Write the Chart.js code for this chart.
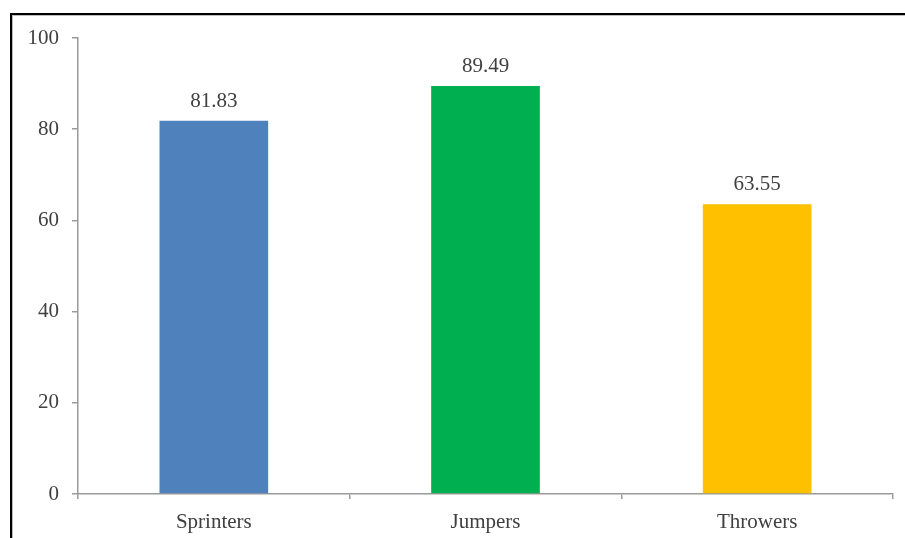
<!DOCTYPE html>
<html>
<head>
<meta charset="utf-8">
<script src="https://cdn.jsdelivr.net/npm/chart.js@4"></script>
<style>
  html, body { margin: 0; padding: 0; background: #fff; }
  #wrap { position: relative; width: 905px; height: 538px; overflow: hidden; }
  #frame { position: absolute; left: 10px; top: 13px; width: 900px; height: 540px;
           border-top: 2px solid #000; border-left: 2px solid #000;
           box-shadow: 1px 1px 0 #bdbdbd inset; pointer-events: none; }
  canvas { position: absolute; left: 0; top: 0; }
</style>
</head>
<body>
<div id="wrap">
  <canvas id="c" width="905" height="538"></canvas>
  <div id="frame"></div>
</div>
<script>
const categories = ["Sprinters", "Jumpers", "Throwers"];
const values = [81.83, 89.49, 63.55];
const barColors = ["#4F81BD", "#00B050", "#FFC000"];
const yTicks = [0, 20, 40, 60, 80, 100];

const FONT = "'Liberation Serif', 'Times New Roman', serif";
const TEXT = "#404040";
const AXIS = "#9a9a9a";

const valueLabels = {
  id: 'valueLabels',
  afterDatasetsDraw(chart) {
    const ctx = chart.ctx;
    const meta = chart.getDatasetMeta(0);
    ctx.save();
    ctx.font = "21px " + FONT;
    ctx.fillStyle = TEXT;
    ctx.textAlign = 'center';
    ctx.textBaseline = 'alphabetic';
    meta.data.forEach((bar, i) => {
      ctx.fillText(values[i].toFixed(2), bar.x, bar.y - 14);
    });
    ctx.restore();
  }
};

new Chart(document.getElementById('c'), {
  type: 'bar',
  data: {
    labels: categories,
    datasets: [{
      data: values,
      backgroundColor: barColors,
      borderWidth: 0,
      categoryPercentage: 1.0,
      barPercentage: 0.4
    }]
  },
  options: {
    responsive: false,
    animation: false,
    layout: { padding: { top: 38, right: 12, left: 0, bottom: 0 } },
    plugins: { legend: { display: false }, tooltip: { enabled: false } },
    scales: {
      x: {
        offset: true,
        grid: { display: true, drawOnChartArea: false, drawTicks: true, tickLength: 5, offset: true, color: AXIS, lineWidth: 1.5 },
        border: { display: true, color: AXIS, width: 1.5 },
        ticks: { color: TEXT, font: { family: FONT, size: 21 }, padding: 11 },
        afterFit(scale) { scale.height = 44; }
      },
      y: {
        min: 0, max: 100,
        afterBuildTicks(scale) { scale.ticks = yTicks.map(v => ({ value: v })); },
        grid: { display: true, drawOnChartArea: false, drawTicks: true, tickLength: 6, color: AXIS, lineWidth: 1.5 },
        border: { display: true, color: AXIS, width: 1.5 },
        ticks: { color: TEXT, font: { family: FONT, size: 21 }, padding: 13 },
        afterFit(scale) { scale.width = 78; }
      }
    }
  },
  plugins: [valueLabels]
});
</script>
</body>
</html>
